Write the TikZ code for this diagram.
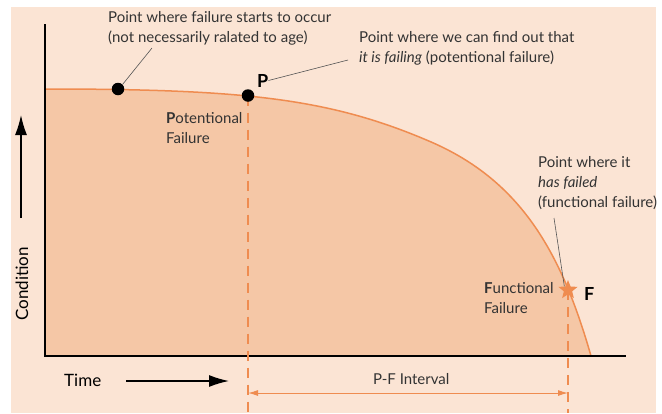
\documentclass[tikz,border=0pt]{standalone}
\usepackage{fontspec}
\setmainfont{Lato}
\usepackage{tikz}
\usetikzlibrary{arrows.meta,positioning,shapes.geometric}
\definecolor{Paper}{RGB}{251,228,212}
\definecolor{Wear}{RGB}{245,199,166}
\definecolor{Rust}{RGB}{239,140,80}
\definecolor{Ink}{HTML}{333333}
\definecolor{Lead}{HTML}{555555}

\begin{document}
\begin{tikzpicture}[x=1pt,y=-1pt,
  note/.style={align=left,anchor=north west,inner sep=0pt,text=Ink,font=\fontsize{15}{20}\selectfont},
  caption/.style={anchor=base west,inner sep=0pt,text=Ink,font=\fontsize{15}{20}\selectfont},
  axislabel/.style={caption,text=black,font=\fontsize{17}{20}\selectfont},
  letter/.style={anchor=base west,inner sep=0pt,text=black,font=\fontsize{18}{20}\selectfont\bfseries},
  dot/.style={circle,fill=black,minimum size=12.5pt,inner sep=0pt},
  failstar/.style={star,star points=5,star point ratio=2.3,fill=Rust,minimum size=20pt,inner sep=0pt},
  axis/.style={line width=1.5pt,line cap=rect},
  bigarrow/.style={line width=1.5pt,-{Latex[length=20pt,width=12pt]}},
  dashline/.style={Rust,line width=2pt,dash pattern=on 10pt off 7pt},
  leader/.style={Lead,line width=0.6pt},
  interval/.style={Rust,line width=1pt,{Latex[length=10pt,width=6pt]}-{Latex[length=10pt,width=6pt]}}
]
\useasboundingbox (0,0) rectangle (662,413);
\fill[Paper] (11,7) rectangle (656,413);
\coordinate (origin) at (45,356);
\coordinate (floor) at (0,413);
\coordinate (top) at (45,89);
\coordinate (knee) at (430,141.5);
\coordinate (end) at (591,356);

\fill[Wear] (origin) -- (top) .. controls (245,89) and (330,98.5) .. (knee) .. controls (520,180.2) and (561,251) .. (end) -- cycle;
\draw[Rust,line width=1.5pt] (top) .. controls (245,89) and (330,98.5) .. (knee) .. controls (520,180.2) and (561,251) .. (end);

\draw[axis] (45,25) -- (origin) -- (625,356);

\coordinate (pspot) at (248,95.5);
\coordinate (fspot) at (568,290);
\draw[dashline] (pspot) -- (pspot |- floor);
\draw[dashline] (fspot) -- (fspot |- floor);

\node[dot] (onset) at (118,89) {};
\node[dot] (pdot) at (pspot) {};
\node[failstar] (fstar) at (fspot) {};

\node[letter] (plabel) at (257,87) {P};
\node[letter] (flabel) at (584,300) {F};

\node[note] (onsetnote) at (108,11) {Point where failure starts to occur\\(not necessarily ralated to age)};
\node[note] (pnote) at (359,31) {Point where we can find out that\\\textit{it is failing} (potentional failure)};
\node[note] (fnote) at (538,156) {Point where it\\\textit{has failed}\\(functional failure)};
\node[note] (pfail) at (166,112) {\textbf{P}otentional\\Failure};
\node[note] (ffail) at (484,282) {\textbf{F}unctional\\Failure};

\coordinate (onsetlead) at (152,48);
\coordinate (plead) at (348,60);
\coordinate (flead) at (554,218);
\draw[leader] (onset.north east) -- (onsetlead);
\draw[leader] (plabel.east) -- (plead);
\draw[leader] (flead) -- (fstar.north west);

\node[axislabel] (time) at (64,386) {Time};
\coordinate (timestart) at (126,381);
\coordinate (timeend) at (229,381);
\draw[bigarrow] (timestart) -- (timeend);

\node[axislabel,rotate=90] (condition) at (28,321) {Condition};
\coordinate (condstart) at (21,218);
\coordinate (condend) at (21,115);
\draw[bigarrow] (condstart) -- (condend);

\coordinate (pfleft) at (pspot |- 0,393);
\coordinate (pfright) at (fspot |- 0,393);
\draw[interval] (pfleft) -- (pfright);
\node[caption] (pf) at (373,384) {P-F Interval};
\end{tikzpicture}
\end{document}
